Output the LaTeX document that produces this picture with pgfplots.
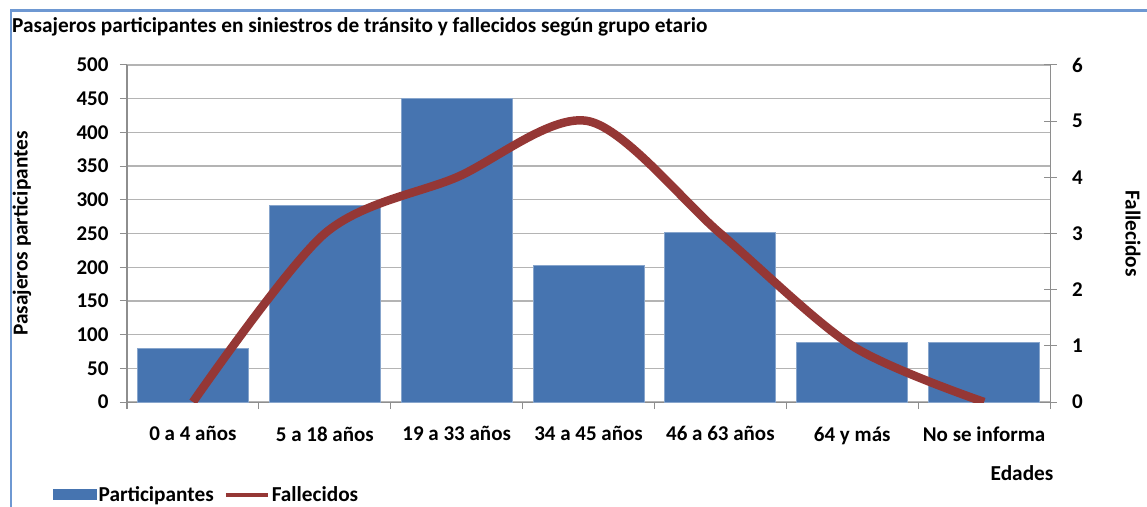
\documentclass[border=0pt]{standalone}
\usepackage{fontspec}
\setmainfont{Carlito}
\usepackage{pgfplots}
\pgfplotsset{compat=1.18}
\definecolor{barblue}{HTML}{4674B0}
\definecolor{linered}{HTML}{953735}
\definecolor{gridgray}{HTML}{B4B4B4}
\definecolor{axisgray}{HTML}{8E8E8E}
\definecolor{frameblue}{HTML}{6E98D2}
\newcommand{\chfont}{\fontsize{21.3}{24}\selectfont\bfseries}
\newcommand{\tkfont}{\fontsize{21}{24}\selectfont\bfseries}
\begin{document}
\begin{tikzpicture}[x=1pt,y=1pt]
\path[use as bounding box] (0,0) rectangle (1147,506);
\draw[frameblue, line width=2.5pt] (11,-10) -- (11,495.5) -- (1160,495.5);
\node[anchor=base west, font=\chfont, inner sep=0pt] at (12,473) {Pasajeros participantes en siniestros de tránsito y fallecidos según grupo etario};

\pgfplotsset{common/.style={
  width=923pt, height=337pt, scale only axis, at={(127pt,104pt)}, anchor=south west,
  xmin=-0.5, xmax=6.5,
  /pgf/number format/assume math mode=true,
  tick label style={font=\tkfont},
  axis line style={axisgray, line width=1pt},
  major tick style={axisgray, line width=1pt},
}}

\begin{axis}[common,
  ymin=0, ymax=500, ytick={0,50,...,500},
  axis y line*=left, axis x line*=bottom,
  ymajorgrids, grid style={gridgray, line width=1.3pt},
  xtick={-0.5,0.5,...,6.5}, x tick label as interval,
  xticklabels={0 a 4 años,5 a 18 años,19 a 33 años,34 a 45 años,46 a 63 años,64 y más,No se informa},
  xtick align=center, ytick align=outside,
  major tick length=7pt,
  xticklabel style={yshift=-14pt},
  yticklabel style={xshift=-8pt},
  ybar, bar width=111pt,
  every axis y label/.style={at={(axis description cs:-0.1138,0.5)}, rotate=90, anchor=center, font=\chfont},
  ylabel={Pasajeros participantes},
  every axis x label/.style={at={(axis description cs:0.9697,-0.2107)}, anchor=center, font=\chfont},
  xlabel={Edades},
]
\addplot[fill=barblue, draw=barblue!65!white, line width=0.8pt] coordinates {(0,80) (1,292) (2,450) (3,203) (4,251) (5,88) (6,89)};
\end{axis}

\begin{axis}[common,
  ymin=0, ymax=6, ytick={0,1,...,6},
  axis y line*=right, axis x line=none,
  ytick align=center, major tick length=13pt,
  yticklabel style={xshift=12pt},
  every axis y label/.style={at={(axis description cs:1.09,0.5)}, rotate=-90, anchor=center, font=\chfont},
  ylabel={Fallecidos},
  legend columns=2,
  legend style={at={(axis description cs:-0.0834,-0.275)}, anchor=west, draw=none, fill=none, font=\chfont,
    nodes={inner sep=2pt},
    /tikz/every even column/.append style={column sep=8pt}},
]
\addlegendimage{legend image code/.code={\fill[barblue] (0pt,-5pt) rectangle (43pt,5pt);}}
\addlegendentry{Participantes}
\addplot[linered, line width=8.5pt, smooth, tension=0.5,
  legend image code/.code={\draw[linered, line width=4pt] (0pt,0pt) -- (42pt,0pt);}]
  coordinates {(0,0) (1,3) (2,4) (3,5) (4,3) (5,1) (6,0)};
\addlegendentry{Fallecidos}
\end{axis}
\end{tikzpicture}
\end{document}
